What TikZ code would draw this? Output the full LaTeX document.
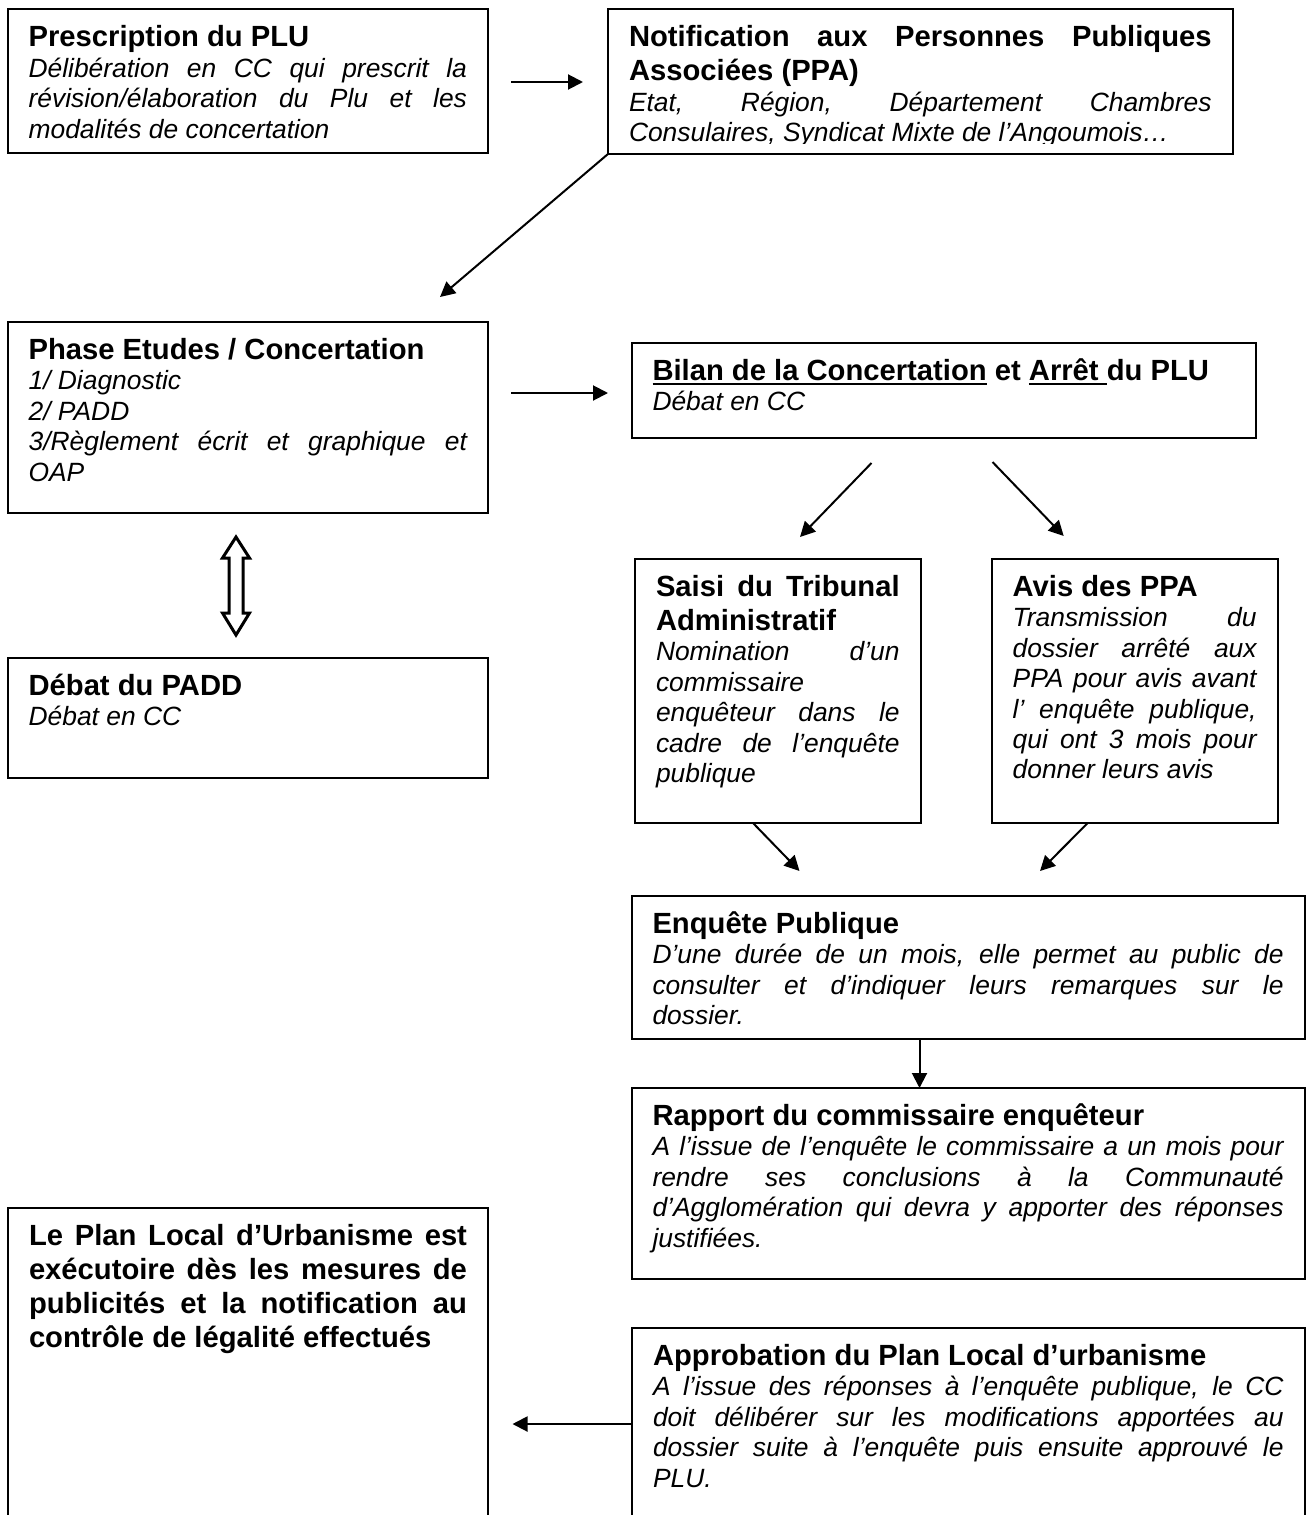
\documentclass[tikz,border=0pt]{standalone}
\usepackage{fontspec}
\setmainfont{Liberation Sans}
\usetikzlibrary{arrows.meta,calc}
\hyphenpenalty=10000 \exhyphenpenalty=10000
\tolerance=10000 \hbadness=10000 \vbadness=10000 \hfuzz=3pt \vfuzz=20pt
\newcommand\boxtitle[1]{{\fontsize{14.6pt}{17pt}\selectfont\bfseries\rule{0pt}{14pt}#1\par}}
\newcommand\boxbody[1]{{\fontsize{13.2pt}{15.2pt}\selectfont\itshape #1\par}}
\newcommand\uln[1]{\setbox0=\hbox{#1}\rlap{\rule[-2.4pt]{\wd0}{1pt}}\box0\relax}
\begin{document}
\begin{tikzpicture}[x=0.5pt,y=-0.5pt,
  box/.style={draw, line width=1pt, anchor=north west, inner xsep=10.5pt, inner ysep=4.75pt, outer sep=0pt},
  arr/.style={line width=1pt, -{Triangle[length=7.5pt,width=7.5pt]}},
  dbl/.style={line width=1.5pt, line join=miter}]
\useasboundingbox (0,0) rectangle (1306,1515);
\clip (0,0) rectangle (1306,1515);

% Boxes
\node[box] (presc) at (7.6,9.3) {\parbox[c][62.35pt][t]{219.2pt}{%
  \boxtitle{Prescription du PLU}%
  \boxbody{Délibération en CC qui prescrit la \linebreak révision/élaboration du Plu et les \linebreak modalités de concertation}}};

\node[box] (notif) at (608,9.3) {\parbox[c][62.85pt][t]{291.3pt}{%
  \boxtitle{Notification aux Personnes Publiques \linebreak Associées (PPA)}%
  \boxbody{Etat, Région, Département Chambres \linebreak Consulaires, Syndicat Mixte de l’Angoumois…}}};
\fill[white] (610,143.5) rectangle (1231,153);

\node[box] (phase) at (7.6,322) {\parbox[c][86pt][t]{219.2pt}{%
  \boxtitle{Phase Etudes / Concertation}%
  \boxbody{1/ Diagnostic\par 2/ PADD\par 3/Règlement écrit et graphique et \linebreak OAP}}};

\node[box] (debat) at (7.6,658) {\parbox[c][50.5pt][t]{219.2pt}{%
  \boxtitle{Débat du PADD}%
  \boxbody{Débat en CC}}};

\node[box] (bilan) at (631.5,343) {\parbox[c][38pt][t]{291.25pt}{%
  \boxtitle{\uln{Bilan de la Concertation} et \uln{Arrêt }du PLU}%
  \boxbody{Débat en CC}}};

\node[box] (saisi) at (635,559) {\parbox[c][122.5pt][t]{121.8pt}{%
  \boxtitle{Saisi du Tribunal \linebreak Administratif}%
  \boxbody{Nomination d’un \linebreak commissaire \linebreak enquêteur dans le \linebreak cadre de l’enquête \linebreak publique}}};

\node[box] (avis) at (991.7,559) {\parbox[c][122.5pt][t]{121.95pt}{%
  \boxtitle{Avis des PPA}%
  \boxbody{Transmission du \linebreak dossier arrêté aux \linebreak PPA pour avis avant \linebreak l’ enquête publique, \linebreak qui ont 3 mois pour \linebreak donner leurs avis}}};

\node[box] (enq) at (631.5,896) {\parbox[c][62pt][t]{315.55pt}{%
  \boxtitle{Enquête Publique}%
  \boxbody{D’une durée de un mois, elle permet au public de \linebreak consulter et d’indiquer leurs remarques sur le \linebreak dossier.}}};

\node[box] (rapport) at (631.5,1088) {\parbox[c][86pt][t]{315.55pt}{%
  \boxtitle{Rapport du commissaire enquêteur}%
  \boxbody{A l’issue de l’enquête le commissaire a un mois pour \linebreak rendre ses conclusions à la Communauté \linebreak d’Agglomération qui devra y apporter des réponses \linebreak justifiées.}}};

\node[box] (leplan) at (8,1208) {\parbox[c][160.5pt][t]{219pt}{%
  \boxtitle{Le Plan Local d’Urbanisme est \linebreak exécutoire dès les mesures de \linebreak publicités et la notification au \linebreak contrôle de légalité effectués}}};

\node[box] (approb) at (632,1328) {\parbox[c][100.5pt][t]{315.3pt}{%
  \boxtitle{Approbation du Plan Local d’urbanisme}%
  \boxbody{A l’issue des réponses à l’enquête publique, le CC \linebreak doit délibérer sur les modifications apportées au \linebreak dossier suite à l’enquête puis ensuite approuvé le \linebreak PLU.}}};

% Connectors
\draw[arr] ($(presc.north east)+(23,72.7)$) -- ($(notif.north west)+(-25,72.7)$);
\draw[arr] (notif.south west) -- ($(phase.north west)+(432.4,-25)$);
\draw[arr] ($(phase.north east)+(23,71)$) -- ($(bilan.north west)+(-23.5,50)$);
\draw[arr] ($(bilan.south west)+(240,25)$) -- ($(saisi.north west)+(165,-22)$);
\draw[arr] ($(bilan.south west)+(361,24)$) -- ($(avis.north west)+(72,-23)$);
\draw[arr] ($(saisi.south west)+(118,0)$) -- ($(enq.north west)+(168,-25)$);
\draw[arr] ($(avis.south west)+(96,0)$) -- ($(enq.north west)+(408.5,-25)$);
\draw[arr] ($(enq.south west)+(288,0)$) -- ($(rapport.north west)+(288,0)$);
\draw[arr] ($(approb.north west)+(0,96)$) -- ($(leplan.north east)+(24.5,216)$);

% Hollow double arrow between Phase and Debat
\coordinate (dac) at ($(phase.south west)+(228.4,73)$);
\draw[dbl] ($(dac)+(0,-49)$) -- ++(13.5,21) -- ++(-6.5,0) -- ++(0,55) -- ++(6.5,0)
  -- ++(-13.5,22) -- ++(-13.5,-22) -- ++(6.5,0) -- ++(0,-55) -- ++(-6.5,0) -- cycle;
\end{tikzpicture}
\end{document}
